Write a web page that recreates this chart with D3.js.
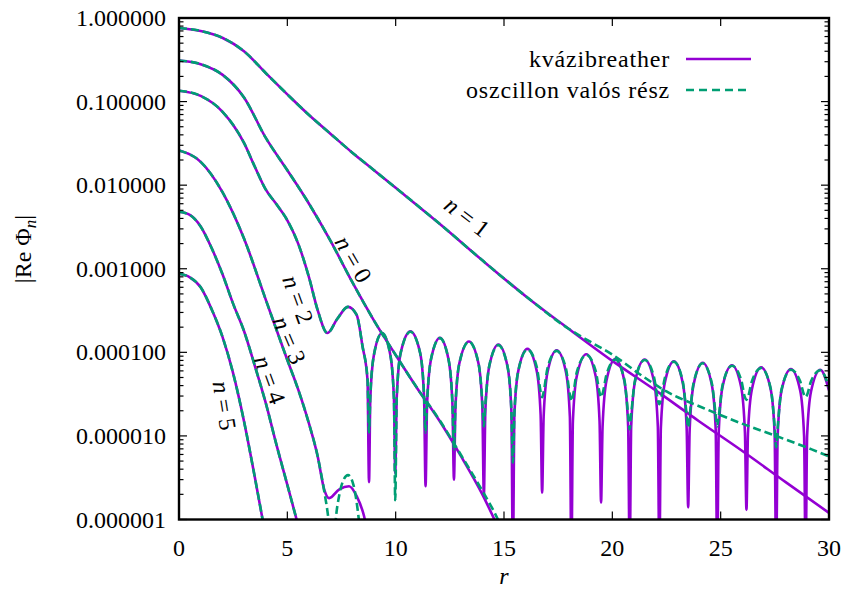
<!DOCTYPE html>
<html>
<head>
<meta charset="utf-8">
<script src="https://cdn.jsdelivr.net/npm/d3@7"></script>
<style>
body { margin: 0; background: #fff; }
text { font-family: "Liberation Serif", "DejaVu Serif", serif; fill: #000; }
</style>
</head>
<body>
<svg width="841" height="589"></svg>
<script>
const rTicks = [0, 5, 10, 15, 20, 25, 30];
const phiTicks = [1, 0.1, 0.01, 0.001, 0.0001, 0.00001, 0.000001];
const legendNames = ['kvázibreather', 'oszcillon valós rész'];

// kvázibreather, |Re Phi_n|, [r, value]
const qb0 = [[0,0.31],[1,0.28],[2,0.21],[3,0.112],[4,0.037],[5,0.0151],[6,0.0060],[7,0.00214],[8,6.9e-4],[9,2.4e-4],[10,9.3e-5],[11,3.7e-5],[12,1.55e-5],[13,5.8e-6],[14,2.0e-6],[15,5.6e-7]];
const qb1 = [[0,0.76],[1,0.70],[2,0.58],[3,0.40],[4,0.22],[5,0.122],[6,0.069],[7,0.041],[8,0.0245],[9,0.0151],[10,0.0093],[12,0.0035],[14,0.00126],[16,4.7e-4],[18,1.9e-4],[20,7.9e-5],[22,3.5e-5],[24,1.5e-5],[26,6.6e-6],[28,2.8e-6],[30,1.2e-6]];
const qb2 = [[0,0.135],[1,0.117],[2,0.076],[3,0.032],[3.5,0.0166],[4,0.0089],[4.5,0.0059],[5,0.0038],[5.5,0.0020],[6,7.9e-4],[6.4,3.2e-4],[6.85,1.7e-4],[7.3,2.5e-4],[7.8,3.5e-4],[8.2,2.8e-4],[8.47,1.18e-4],[8.7,4.7e-5],[8.77,2.8e-6],
  [8.83,2.8e-5],[9.0,9.4e-5],[9.37,1.7e-4],[9.75,9.4e-5],[9.92,2.8e-5],[9.98,3.6e-6],
  [10.05,2.9e-5],[10.23,9.8e-5],[10.68,1.78e-4],[11.13,9.8e-5],[11.31,2.9e-5],[11.38,2.5e-6],
  [11.45,2.4e-5],[11.63,8.2e-5],[12.04,1.49e-4],[12.44,8.2e-5],[12.62,2.4e-5],[12.69,3.0e-6],
  [12.76,2.2e-5],[12.94,7.4e-5],[13.38,1.35e-4],[13.82,7.4e-5],[14.0,2.2e-5],[14.07,1.9e-6],
  [14.14,2.0e-5],[14.32,6.8e-5],[14.74,1.24e-4],[15.16,6.8e-5],[15.34,2.0e-5],[15.41,3e-7],
  [15.48,1.8e-5],[15.66,6.0e-5],[16.08,1.1e-4],[16.51,6.0e-5],[16.69,1.8e-5],[16.76,2.1e-6],
  [16.83,1.7e-5],[17.01,5.8e-5],[17.43,1.06e-4],[17.86,5.8e-5],[18.04,1.7e-5],[18.11,3e-7],
  [18.18,1.5e-5],[18.36,5.2e-5],[18.8,9.5e-5],[19.23,5.2e-5],[19.41,1.5e-5],[19.48,1.6e-6],
  [19.55,1.3e-5],[19.73,4.6e-5],[20.14,8.3e-5],[20.55,4.6e-5],[20.73,1.3e-5],[20.80,3e-7],
  [20.87,1.3e-5],[21.05,4.5e-5],[21.49,8.2e-5],[21.92,4.5e-5],[22.10,1.3e-5],[22.17,3e-7],
  [22.24,1.25e-5],[22.42,4.3e-5],[22.84,7.8e-5],[23.25,4.3e-5],[23.43,1.25e-5],[23.50,1.4e-6],
  [23.57,1.2e-5],[23.75,4.1e-5],[24.17,7.5e-5],[24.59,4.1e-5],[24.77,1.2e-5],[24.84,3e-7],
  [24.91,1.1e-5],[25.09,3.9e-5],[25.52,7.0e-5],[25.94,3.9e-5],[26.12,1.1e-5],[26.19,1.3e-6],
  [26.26,1.06e-5],[26.44,3.6e-5],[26.87,6.6e-5],[27.31,3.6e-5],[27.49,1.06e-5],[27.56,3e-7],
  [27.63,1.0e-5],[27.81,3.5e-5],[28.24,6.3e-5],[28.67,3.5e-5],[28.85,1.0e-5],[28.92,3e-7],
  [28.99,1.0e-5],[29.17,3.4e-5],[29.6,6.2e-5],[30,3.5e-5]];
const qb3 = [[0,0.026],[1,0.019],[2,0.0083],[3,0.0023],[4,4.3e-4],[5,8.1e-5],[5.5,3.6e-5],[6,1.4e-5],[6.4,5.7e-6],[6.7,2.3e-6],[6.93,1.8e-6],[7.4,2.3e-6],[7.85,2.5e-6],[8.2,1.9e-6],[8.54,1.1e-6],[8.8,5e-7]];
const qb4 = [[0,0.0048],[0.5,0.0044],[1,0.0032],[1.5,0.00178],[2,8.7e-4],[2.5,3.8e-4],[3,1.8e-4],[3.5,6.9e-5],[4,2.5e-5],[4.5,7.8e-6],[5,2.6e-6],[5.5,8.5e-7]];
const qb5 = [[0,8.7e-4],[0.5,7.9e-4],[1,6.0e-4],[1.5,3.3e-4],[2,1.55e-4],[2.5,5.6e-5],[3,1.5e-5],[3.5,3.2e-6],[4,6.3e-7]];

// oszcillon valós rész, where it differs from the breather
const osc0 = [[0,0.31],[1,0.28],[2,0.21],[3,0.112],[4,0.037],[5,0.0151],[6,0.0060],[7,0.00214],[8,6.9e-4],[9,2.4e-4],[10,9.3e-5],[11,3.7e-5],[12,1.58e-5],[13,6.0e-6],[14,2.2e-6],[14.5,1.3e-6],[15,7e-7]];
const osc1 = [[0,0.76],[1,0.70],[2,0.58],[3,0.40],[4,0.22],[5,0.122],[6,0.069],[7,0.041],[8,0.0245],[9,0.0151],[10,0.0093],[12,0.0035],[14,0.00126],[16,4.7e-4],[18,1.9e-4],[19,1.33e-4],[20,9.4e-5],[21.3,5.4e-5],[22.5,3.4e-5],[24.2,2.16e-5],[25.9,1.43e-5],[27.6,9.9e-6],[29.2,6.9e-6],[30,5.7e-6]];
const osc2 = [[0,0.135],[1,0.117],[2,0.076],[3,0.032],[3.5,0.0166],[4,0.0089],[4.5,0.0059],[5,0.0038],[5.5,0.0020],[6,7.9e-4],[6.4,3.2e-4],[6.85,1.7e-4],[7.3,2.5e-4],[7.8,3.5e-4],[8.2,2.8e-4],[8.47,1.18e-4],[8.7,4.8e-5],[8.77,1.1e-5],
  [8.83,3.0e-5],[9.0,9.4e-5],[9.37,1.7e-4],[9.75,9.4e-5],[9.92,2.8e-5],[9.98,1.7e-6],
  [10.05,2.9e-5],[10.23,9.8e-5],[10.68,1.76e-4],[11.13,9.8e-5],[11.31,3.1e-5],[11.38,1.1e-5],
  [11.45,2.6e-5],[11.63,8.3e-5],[12.04,1.48e-4],[12.44,8.2e-5],[12.62,2.5e-5],[12.69,6.9e-6],
  [12.76,2.3e-5],[12.94,7.4e-5],[13.38,1.34e-4],[13.82,7.5e-5],[14.0,2.55e-5],[14.07,1.3e-5],
  [14.14,2.4e-5],[14.32,6.9e-5],[14.74,1.22e-4],[15.16,6.8e-5],[15.34,2.05e-5],[15.41,4.8e-6],
  [15.48,1.85e-5],[15.66,6.0e-5],[16.08,1.08e-4],[16.51,6.7e-5],[16.69,3.4e-5],[16.76,2.9e-5],
  [16.83,3.35e-5],[17.01,6.5e-5],[17.43,1.04e-4],[17.86,6.4e-5],[18.04,3.1e-5],[18.11,2.6e-5],
  [18.18,3.0e-5],[18.36,5.8e-5],[18.8,9.3e-5],[19.23,6.0e-5],[19.41,3.3e-5],[19.48,2.9e-5],
  [19.55,3.2e-5],[19.73,5.4e-5],[20.14,8.2e-5],[20.55,4.75e-5],[20.73,1.8e-5],[20.80,1.2e-5],
  [20.87,1.8e-5],[21.05,4.65e-5],[21.49,8.1e-5],[21.92,5.1e-5],[22.10,2.7e-5],[22.17,2.4e-5],
  [22.24,2.7e-5],[22.42,4.9e-5],[22.84,7.7e-5],[23.25,4.5e-5],[23.43,1.8e-5],[23.50,1.26e-5],
  [23.57,1.75e-5],[23.75,4.3e-5],[24.17,7.4e-5],[24.59,4.3e-5],[24.77,1.8e-5],[24.84,1.3e-5],
  [24.91,1.7e-5],[25.09,4.1e-5],[25.52,6.9e-5],[25.94,4.75e-5],[26.12,2.9e-5],[26.19,2.7e-5],
  [26.26,2.9e-5],[26.44,4.5e-5],[26.87,6.5e-5],[27.31,3.7e-5],[27.49,1.3e-5],[27.56,7.3e-6],
  [27.63,1.25e-5],[27.81,3.6e-5],[28.24,6.2e-5],[28.67,4.5e-5],[28.85,3.1e-5],[28.92,2.9e-5],
  [28.99,3.1e-5],[29.17,4.5e-5],[29.6,6.1e-5],[30,3.8e-5]];
const osc3 = [[0,0.026],[1,0.019],[2,0.0083],[3,0.0023],[4,4.3e-4],[5,8.1e-5],[5.5,3.6e-5],[6,1.4e-5],[6.4,5.7e-6],[6.7,2.2e-6],[6.9,1.0e-6],[7.05,4e-7],[7.3,1.4e-6],[7.55,2.8e-6],[7.8,3.4e-6],[8.05,2.6e-6],[8.3,1.0e-6],[8.45,4e-7]];

// curve labels: text, r, value, angle
const curveLabels = [['0', 8.05, 1.3e-3, 60], ['1', 13.3, 0.0042, 37.6], ['2', 5.5, 4.3e-4, 70], ['3', 5.1, 1.4e-4, 67], ['4', 4.2, 4.7e-5, 70], ['5', 2.1, 2.3e-5, 81]];

const mLeft = 179, mRight = 829, mTop = 18, mBottom = 519.5;
const purple = '#9400d3', green = '#009e73';

let x = d3.scaleLinear().domain([0, 30]).range([mLeft, mRight]);
let y = d3.scaleLog().domain([1e-6, 1]).range([mBottom, mTop]);

let svg = d3.select('svg');

svg.append('clipPath').attr('id', 'plot')
    .append('rect')
    .attr('x', mLeft).attr('y', mTop)
    .attr('width', mRight - mLeft).attr('height', mBottom - mTop);

let line = d3.line()
    .x(function (d) { return x(d[0]); })
    .y(function (d) { return y(d[1]); })
    .curve(d3.curveMonotoneX);

let curves = svg.append('g').attr('clip-path', 'url(#plot)');

[qb0, qb1, qb2, qb3, qb4, qb5].forEach(function (d) {
    curves.append('path')
        .attr('d', line(d))
        .attr('fill', 'none')
        .attr('stroke', purple)
        .attr('stroke-width', 2.6);
});

[osc0, osc1, osc2, osc3, qb4, qb5].forEach(function (d) {
    curves.append('path')
        .attr('d', line(d))
        .attr('fill', 'none')
        .attr('stroke', green)
        .attr('stroke-width', 2.6)
        .attr('stroke-dasharray', '8,4');
});

// ticks, mirrored on all sides
let ticks = svg.append('g').attr('stroke', '#000').attr('stroke-width', 1.2);
y.ticks().forEach(function (v) {
    let major = Math.abs(Math.log10(v) - Math.round(Math.log10(v))) < 1e-9;
    let len = major ? 8 : 4.5;
    ticks.append('line').attr('x1', mLeft).attr('x2', mLeft + len).attr('y1', y(v)).attr('y2', y(v));
    ticks.append('line').attr('x1', mRight).attr('x2', mRight - len).attr('y1', y(v)).attr('y2', y(v));
});
rTicks.forEach(function (v) {
    ticks.append('line').attr('x1', x(v)).attr('x2', x(v)).attr('y1', mBottom).attr('y2', mBottom - 8);
    ticks.append('line').attr('x1', x(v)).attr('x2', x(v)).attr('y1', mTop).attr('y2', mTop + 8);
});

svg.append('rect')
    .attr('x', mLeft).attr('y', mTop)
    .attr('width', mRight - mLeft).attr('height', mBottom - mTop)
    .attr('fill', 'none').attr('stroke', '#000').attr('stroke-width', 2.4);

svg.append('g').selectAll('text')
    .data(phiTicks)
    .enter()
    .append('text')
    .attr('x', 166)
    .attr('y', function (d) { return y(d); })
    .attr('dy', '0.34em')
    .attr('text-anchor', 'end')
    .style('font-size', '24px')
    .text(d3.format('.6f'));

svg.append('g').selectAll('text')
    .data(rTicks)
    .enter()
    .append('text')
    .attr('x', function (d) { return x(d); })
    .attr('y', 556)
    .attr('text-anchor', 'middle')
    .style('font-size', '24px')
    .text(function (d) { return d; });

svg.append('text')
    .attr('x', x(15)).attr('y', 584)
    .attr('text-anchor', 'middle')
    .style('font-size', '24px').style('font-style', 'italic')
    .text('r');

let ylab = svg.append('text')
    .attr('transform', 'translate(31,249) rotate(-90)')
    .attr('text-anchor', 'middle')
    .style('font-size', '24px');
ylab.append('tspan').text('|Re Φ');
ylab.append('tspan').attr('dy', 5).style('font-size', '17px').style('font-style', 'italic').text('n');
ylab.append('tspan').attr('dy', -5).text('|');

// legend
legendNames.forEach(function (name, i) {
    let ly = 59 + i * 31;
    svg.append('text')
        .attr('x', 670).attr('y', ly).attr('dy', '0.34em')
        .attr('text-anchor', 'end')
        .style('font-size', '24px').style('letter-spacing', '0.8px')
        .text(name);
    svg.append('line')
        .attr('x1', 686).attr('x2', 751).attr('y1', ly).attr('y2', ly)
        .attr('stroke', i === 0 ? purple : green)
        .attr('stroke-width', 2.6)
        .attr('stroke-dasharray', i === 0 ? null : '8,5');
});

curveLabels.forEach(function (d) {
    let t = svg.append('text')
        .attr('transform', 'translate(' + x(d[1]) + ',' + y(d[2]) + ') rotate(' + d[3] + ')')
        .attr('text-anchor', 'middle')
        .attr('dy', '0.34em')
        .style('font-size', '24px');
    t.append('tspan').style('font-style', 'italic').text('n');
    t.append('tspan').text(' = ' + d[0]);
});
</script>
</body>
</html>
